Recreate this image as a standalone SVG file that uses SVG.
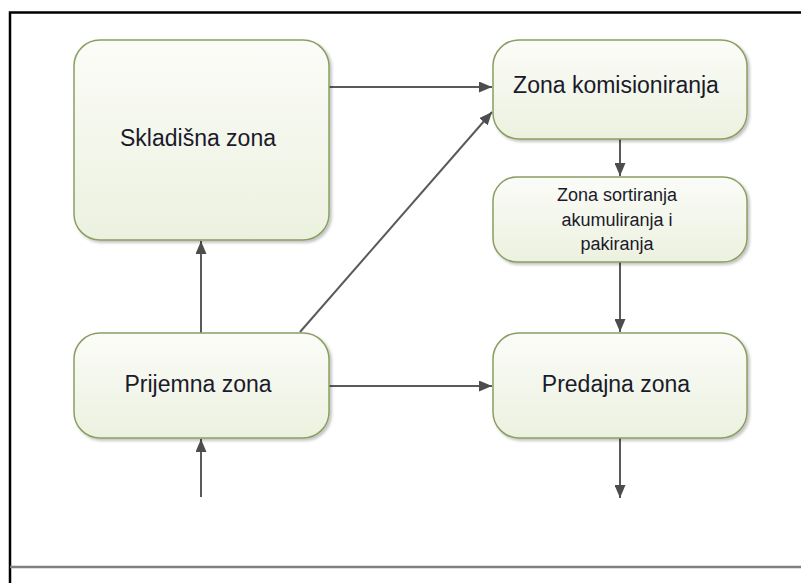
<svg xmlns="http://www.w3.org/2000/svg" width="801" height="583" viewBox="0 0 801 583">
<defs>
<linearGradient id="g" x1="0" y1="0" x2="0" y2="1">
<stop offset="0" stop-color="#fbfcf8"/>
<stop offset="1" stop-color="#ecf1df"/>
</linearGradient>
<filter id="sh" x="-10%" y="-10%" width="130%" height="130%">
<feGaussianBlur in="SourceAlpha" stdDeviation="1.5"/>
<feOffset dx="2" dy="2" result="b"/>
<feComponentTransfer><feFuncA type="linear" slope="0.25"/></feComponentTransfer>
<feMerge><feMergeNode/><feMergeNode in="SourceGraphic"/></feMerge>
</filter>
<marker id="ah" markerWidth="13" markerHeight="11" refX="13" refY="5.5" orient="auto" markerUnits="userSpaceOnUse">
<path d="M0,0 L13,5.5 L0,11 Z" fill="#4d4d4d"/>
</marker>
</defs>
<style>
.box{fill:url(#g);stroke:#8a9f62;stroke-width:1.5;filter:url(#sh)}
.t{font-family:"Liberation Sans",Arial,sans-serif;font-size:23px;fill:#1a1a2a;text-anchor:middle}
.s{font-family:"Liberation Sans",Arial,sans-serif;font-size:18px;fill:#1a1a2a;text-anchor:middle}
.c{stroke:#5a5a5a;stroke-width:2;fill:none;marker-end:url(#ah)}
</style>
<rect width="801" height="583" fill="#ffffff"/>
<path d="M10,583 L10,12.5 L801,12.5" fill="none" stroke="#000000" stroke-width="2.5"/>
<line x1="10" y1="567" x2="801" y2="567" stroke="#808080" stroke-width="2.5"/>
<g id="connectors">
<line class="c" x1="329" y1="87" x2="492" y2="87"/>
<line class="c" x1="300" y1="332" x2="492" y2="112"/>
<line class="c" x1="201" y1="333" x2="201" y2="241"/>
<line class="c" x1="620" y1="139" x2="620" y2="176"/>
<line class="c" x1="620" y1="262" x2="620" y2="332"/>
<line class="c" x1="329" y1="386" x2="492" y2="386"/>
<line class="c" x1="201" y1="497" x2="201" y2="439"/>
<line class="c" x1="620" y1="438" x2="620" y2="498"/>
</g>
<g id="skladisna">
<rect class="box" x="74" y="40" width="255" height="200" rx="26" ry="26"/>
<text class="t" x="198" y="146">Skladišna zona</text>
</g>
<g id="komisioniranje">
<rect class="box" x="493" y="40" width="254" height="99" rx="26" ry="26"/>
<text class="t" x="616" y="93">Zona komisioniranja</text>
</g>
<g id="sortiranje">
<rect class="box" x="493" y="177" width="254" height="85" rx="24" ry="24"/>
<text class="s" x="617" y="201">Zona sortiranja</text>
<text class="s" x="617" y="226">akumuliranja i</text>
<text class="s" x="617" y="250">pakiranja</text>
</g>
<g id="prijemna">
<rect class="box" x="74" y="333" width="255" height="105" rx="26" ry="26"/>
<text class="t" x="198" y="392">Prijemna zona</text>
</g>
<g id="predajna">
<rect class="box" x="493" y="333" width="254" height="105" rx="26" ry="26"/>
<text class="t" x="616" y="392">Predajna zona</text>
</g>
</svg>
